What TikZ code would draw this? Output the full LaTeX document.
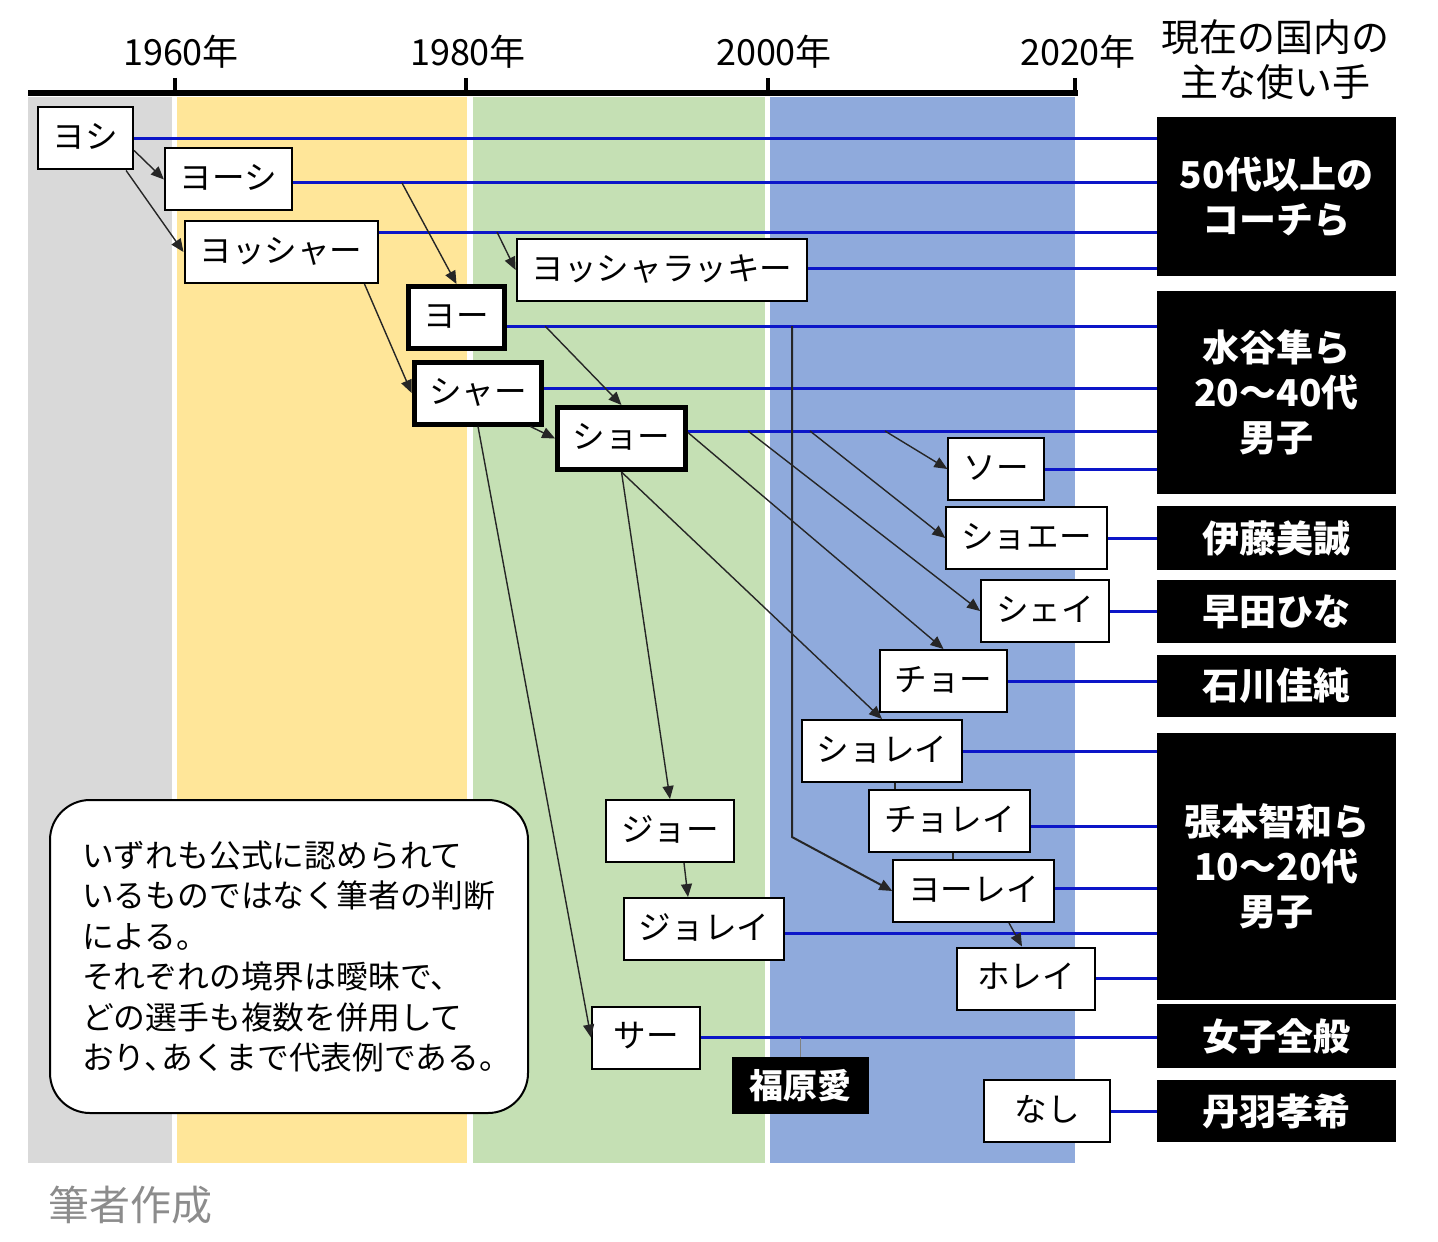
\documentclass[tikz,border=0pt]{standalone}
\usepackage{fontspec}
\setmainfont{Noto Sans CJK JP}
\usetikzlibrary{arrows.meta,calc}
\definecolor{bandgray}{RGB}{217,217,217}
\definecolor{bandyellow}{RGB}{255,230,153}
\definecolor{bandgreen}{RGB}{197,224,180}
\definecolor{bandblue}{RGB}{143,170,220}
\definecolor{linkblue}{RGB}{12,22,200}
\newcommand{\kana}{\fontsize{16.3}{20}\selectfont}
\newcommand{\usrfont}{\bfseries\fontsize{18.5}{22.5}\selectfont}
\newcommand{\notefont}{\fontsize{15.9}{20.25}\selectfont}

\begin{document}
\begin{tikzpicture}[x=0.5pt, y=-0.5pt,
	word/.style={draw, fill=white, line width=1pt, font=\kana, inner xsep=7.5pt, inner ysep=0pt,
		minimum height=31pt, text height=1em, text depth=0em},
	main/.style={word, line width=2.5pt},
	user/.style={fill=black, text=white, font=\usrfont, align=center, minimum width=119.5pt, inner sep=0pt},
	link/.style={linkblue, line width=1.5pt},
	flow/.style={black!85, line width=0.7pt, -{Triangle[length=6.5pt, width=5.5pt]}},
]
	\useasboundingbox (0,0) rectangle (1438,1241);

	% eras
	\fill[bandgray] (28,97) rectangle (172,1163);
	\fill[bandyellow] (177,97) rectangle (467,1163);
	\fill[bandgreen] (473,97) rectangle (765,1163);
	\fill[bandblue] (770,97) rectangle (1075,1163);

	% time axis
	\draw[line width=3pt] (28,93) -- (1078,93);
	\draw[line width=2pt] (175,78) -- (175,93);
	\draw[line width=2pt] (466,78) -- (466,93);
	\draw[line width=2pt] (768,78) -- (768,93);
	\draw[line width=2pt] (1075,78) -- (1075,93);
	\node[font=\fontsize{18}{22}\selectfont] (y1960) at (181,52) {1960年};
	\node[font=\fontsize{18}{22}\selectfont] (y1980) at (468,52) {1980年};
	\node[font=\fontsize{18}{22}\selectfont] (y2000) at (774,52) {2000年};
	\node[font=\fontsize{18}{22}\selectfont] (y2020) at (1078,52) {2020年};
	\node[font=\fontsize{19}{22.5}\selectfont, align=center] (head) at (1275,60) {現在の国内の\\主な使い手};

	% calls
	\node[word] (yoshi) at (85.5,138.5) {ヨシ};
	\node[word] (yooshi) at (228.5,179.5) {ヨーシ};
	\node[word] (yossha) at (281,252) {ヨッシャー};
	\node[word] (lucky) at (662,270) {ヨッシャラッキー};
	\node[main] (yoo) at (456.5,317.5) {ヨー};
	\node[main] (shaa) at (478,393) {シャー};
	\node[main] (shoo) at (621.5,438.5) {ショー};
	\node[word] (soo) at (996,469) {ソー};
	\node[word] (shoee) at (1026.5,538) {ショエー};
	\node[word] (shei) at (1045,611) {シェイ};
	\node[word] (choo) at (943.5,681) {チョー};
	\node[word] (shorei) at (882,751) {ショレイ};
	\node[word] (chorei) at (949.5,821) {チョレイ};
	\node[word] (yoorei) at (973.5,891) {ヨーレイ};
	\node[word, minimum width=69pt] (horei) at (1026,978.5) {ホレイ};
	\node[word] (joo) at (670,831) {ジョー};
	\node[word] (jorei) at (704,929) {ジョレイ};
	\node[word, minimum width=54pt] (saa) at (646,1037.5) {サー};
	\node[word, minimum width=63pt] (nashi) at (1047,1111) {なし};
	\node[fill=black, text=white, font=\bfseries\fontsize{17}{20}\selectfont, minimum width=68.5pt,
		minimum height=28.5pt, inner sep=0pt] (fukuhara) at (800.5,1085.5) {福原愛};

	% players today
	\node[user, minimum height=79.5pt] (coach) at (1276.5,196.5) {50代以上の\\コーチら};
	\node[user, minimum height=101.5pt] (mizutani) at (1276.5,392.5) {水谷隼ら\\20〜40代\\男子};
	\node[user, minimum height=32pt] (ito) at (1276.5,538) {伊藤美誠};
	\node[user, minimum height=31.5pt] (hayata) at (1276.5,611.5) {早田ひな};
	\node[user, minimum height=31pt] (ishikawa) at (1276.5,686) {石川佳純};
	\node[user, minimum height=133.5pt] (harimoto) at (1276.5,866.5) {張本智和ら\\10〜20代\\男子};
	\node[user, minimum height=32pt] (women) at (1276.5,1036) {女子全般};
	\node[user, minimum height=31pt] (niwa) at (1276.5,1111) {丹羽孝希};

	% who uses what
	\draw[link] (yoshi.east) -- (yoshi.east -| coach.west);
	\draw[link] (yooshi.east |- 0,183) -- (coach.west |- 0,183);
	\draw[link] (yossha.east |- 0,232) -- (coach.west |- 0,232);
	\draw[link] (lucky.east |- 0,268) -- (coach.west |- 0,268);
	\draw[link] (yoo.east |- 0,326) -- (mizutani.west |- 0,326);
	\draw[link] (shaa.east |- 0,388) -- (mizutani.west |- 0,388);
	\draw[link] (shoo.east |- 0,431) -- (mizutani.west |- 0,431);
	\draw[link] (soo.east) -- (soo.east -| mizutani.west);
	\draw[link] (shoee.east) -- (ito.west);
	\draw[link] (shei.east) -- (shei.east -| hayata.west);
	\draw[link] (choo.east) -- (choo.east -| ishikawa.west);
	\draw[link] (shorei.east) -- (shorei.east -| harimoto.west);
	\draw[link] (chorei.east |- 0,826) -- (harimoto.west |- 0,826);
	\draw[link] (yoorei.east |- 0,888) -- (harimoto.west |- 0,888);
	\draw[link] (jorei.east |- 0,933) -- (harimoto.west |- 0,933);
	\draw[link] (horei.east) -- (horei.east -| harimoto.west);
	\draw[link] (saa.east) -- (saa.east -| women.west);
	\draw[link] (nashi.east) -- (niwa.west);
	\draw[gray, line width=0.7pt] (fukuhara.north) -- (fukuhara.north |- saa.east);

	% branch points on the lines
	\coordinate (yoosplit) at (402,183);
	\coordinate (lucksplit) at (497,232);
	\coordinate (shoosplit) at (545,326);
	\coordinate (yoodrop) at (792,326);
	\coordinate (yoobend) at (792,837);
	\coordinate (soosplit) at (885,431);
	\coordinate (shoeesplit) at (810,431);
	\coordinate (sheisplit) at (748,431);

	% derivations
	\draw[flow] ($(yoshi.east)+(0,12)$) -- (yooshi.west);
	\draw[flow] ($(yoshi.south east)+(-8,0)$) -- (yossha.west);
	\draw[flow] (yoosplit) -- (yoo.north);
	\draw[flow] ($(yossha.south east)+(-14,0)$) -- (shaa.west);
	\draw[flow] (lucksplit) -- (lucky.west);
	\draw[flow] (shoosplit) -- (shoo.north);
	\draw[flow] ($(shaa.south east)+(-14,0)$) -- (shoo.west);
	\draw[flow] (soosplit) -- (soo.west);
	\draw[flow] (shoeesplit) -- (shoee.west);
	\draw[flow] (sheisplit) -- (shei.west);
	\draw[flow] ($(shoo.east)+(0,-6)$) -- (choo.north);
	\draw[flow] (shoo.south) -- (shorei.north);
	\draw[flow] (shoo.south) -- (joo.north);
	\draw[flow] (joo.south -| 684,0) -- (jorei.north -| 688,0);
	\draw[flow] (shaa.south) -- (saa.west);
	\draw[flow, line width=1pt] (yoodrop) -- (yoobend) -- (yoorei.west);
	\draw[black!85, line width=0.7pt] (shorei.south -| 895,0) -- (chorei.north -| 895,0);
	\draw[black!85, line width=0.7pt] (chorei.south -| 953,0) -- (yoorei.north -| 953,0);
	\draw[flow] (yoorei.south -| 1009,0) -- (horei.north -| 1022,0);

	% caveat
	\node[draw, line width=1pt, rounded corners=20pt, fill=white, font=\notefont, align=left,
		text width=207pt, inner xsep=16pt, minimum height=156.5pt] (note) at (289,956.5)
		{いずれも公式に認められて\\いるものではなく筆者の判断\\による。\\それぞれの境界は曖昧で、\\どの選手も複数を併用して\\おり、\kern-0.45em あくまで代表例である。};
	\node[text=black!45, font=\fontsize{20.5}{24}\selectfont] (credit) at (130,1205) {筆者作成};
\end{tikzpicture}
\end{document}
